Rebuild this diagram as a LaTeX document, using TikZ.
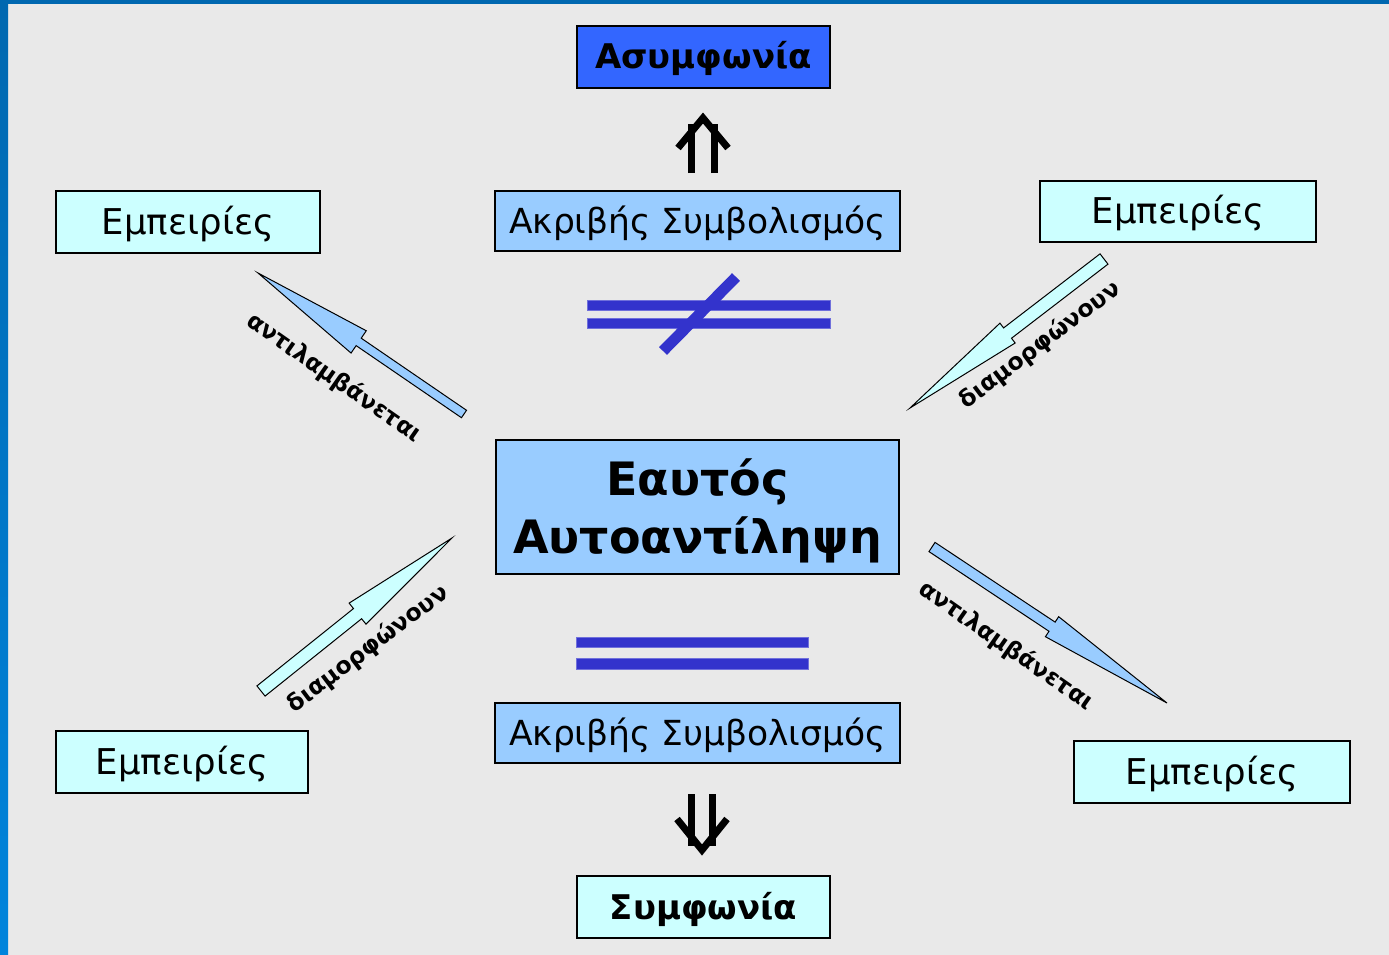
\documentclass[tikz,border=0pt]{standalone}
\usepackage{fontspec}
\setmainfont{DejaVu Sans}
\usetikzlibrary{calc}
\definecolor{bg}{HTML}{E9E9E9}
\definecolor{frameA}{HTML}{0068B0}
\definecolor{frameB}{HTML}{0084DC}
\definecolor{darkbox}{HTML}{3366FF}
\definecolor{midbox}{HTML}{99CCFF}
\definecolor{lightbox}{HTML}{CCFFFF}
\definecolor{eqblue}{HTML}{3333CC}
\newcommand\blockarrow[6]{%
  \draw[#6] (#2)
   -- ($($(#2)!#5!(#1)$)!#4!90:(#2)$)
   -- ($($(#2)!#5!(#1)$)!#3!90:(#2)$)
   -- ($(#1)!#3!90:(#2)$)
   -- ($(#1)!#3!-90:(#2)$)
   -- ($($(#2)!#5!(#1)$)!#3!-90:(#2)$)
   -- ($($(#2)!#5!(#1)$)!#4!-90:(#2)$)
   -- cycle;}
\tikzset{
  box/.style={draw=black, line width=1.3pt, inner sep=0pt, align=center},
  txt/.style={font=\fontsize{34.5}{40}\selectfont, text height=28pt, text depth=4pt},
  etxt/.style={font=\fontsize{35.5}{40}\selectfont, text height=28.5pt, text depth=4pt},
  btxt/.style={font=\bfseries\fontsize{34}{40}\selectfont, text height=28pt, text depth=4pt},
  lbl/.style={font=\bfseries\fontsize{23.5}{28}\selectfont, inner sep=0pt},
  barrow/.style={draw=black, line width=1pt, line join=miter},
  dbl/.style={draw=black, line width=7pt, line join=miter},
  eqbar/.style={fill=eqblue, draw=eqblue!70!white, line width=0.6pt}
}
\begin{document}
\begin{tikzpicture}[x=1pt,y=-1pt]
\useasboundingbox (0,0) rectangle (1389,955);
\fill[bg] (0,0) rectangle (1389,955);
\shade[top color=frameA, bottom color=frameB] (0,0) rectangle (8,955);
\fill[frameA] (0,0) rectangle (1389,4);

% boxes
\node[box, fill=darkbox, minimum width=253pt, minimum height=62pt, btxt] (asym) at (703.5,57) {Ασυμφωνία};
\node[box, fill=midbox, minimum width=405pt, minimum height=60pt, txt] (aktop) at (697.5,221) {Ακριβής Συμβολισμός};
\node[box, fill=lightbox, minimum width=264pt, minimum height=62pt, etxt] (etl) at (188,222) {Εμπειρίες};
\node[box, fill=lightbox, minimum width=276pt, minimum height=61pt, etxt] (etr) at (1178,211.5) {Εμπειρίες};
\node[box, fill=lightbox, minimum width=252pt, minimum height=62pt, etxt] (ebl) at (182,762) {Εμπειρίες};
\node[box, fill=lightbox, minimum width=276pt, minimum height=62pt, etxt] (ebr) at (1212,772) {Εμπειρίες};
\node[box, fill=midbox, minimum width=403pt, minimum height=134pt] (self) at (697.5,507) {};
\node[align=center, inner sep=0pt, font=\bfseries\fontsize{46}{58}\selectfont] (selftxt) at ($(self.center)+(0,4)$) {Εαυτός\\Αυτοαντίληψη};
\node[box, fill=midbox, minimum width=405pt, minimum height=60pt, txt] (akbot) at (697.5,733) {Ακριβής Συμβολισμός};
\node[box, fill=lightbox, minimum width=253pt, minimum height=62pt, btxt] (sym) at (703.5,907) {Συμφωνία};

% double arrows
\draw[dbl] (691,173) -- (691,124);
\draw[dbl] (714,173) -- (714,124);
\draw[dbl] (678,148) -- (703,118) -- (728,148);
\draw[dbl] (691,794) -- (691,846);
\draw[dbl] (712,794) -- (712,846);
\draw[dbl] (677,819) -- (702,850) -- (727,819);

% not-equal and equal
\filldraw[eqbar] (587,300) rectangle (830,310);
\filldraw[eqbar] (587,318) rectangle (830,328);
\draw[eqblue, line width=11pt] (663,351) -- (736,277);
\filldraw[eqbar] (576,637) rectangle (808,647);
\filldraw[eqbar] (576,658) rectangle (808,669);

% block arrows
\coordinate (tlA) at (464,414); \coordinate (tlB) at (258,273);
\coordinate (trA) at (1104,259); \coordinate (trB) at (910,408);
\coordinate (blA) at (261,691); \coordinate (blB) at (452,538);
\coordinate (brA) at (932,547); \coordinate (brB) at (1167,703);
\blockarrow{tlA}{tlB}{4.5pt}{13.5pt}{122pt}{barrow, fill=midbox}
\blockarrow{trA}{trB}{6.5pt}{12.5pt}{123pt}{barrow, fill=lightbox}
\blockarrow{blA}{blB}{6.5pt}{13.5pt}{121pt}{barrow, fill=lightbox}
\blockarrow{brA}{brB}{5.5pt}{12pt}{138pt}{barrow, fill=midbox}

% labels
\node[lbl, rotate=-35] (ltl) at (334,378) {αντιλαμβάνεται};
\node[lbl, rotate=37] (ltr) at (1040,345) {διαμορφώνουν};
\node[lbl, rotate=37] (lbl) at (368,649) {διαμορφώνουν};
\node[lbl, rotate=-35] (lbr) at (1006,646) {αντιλαμβάνεται};
\end{tikzpicture}
\end{document}
